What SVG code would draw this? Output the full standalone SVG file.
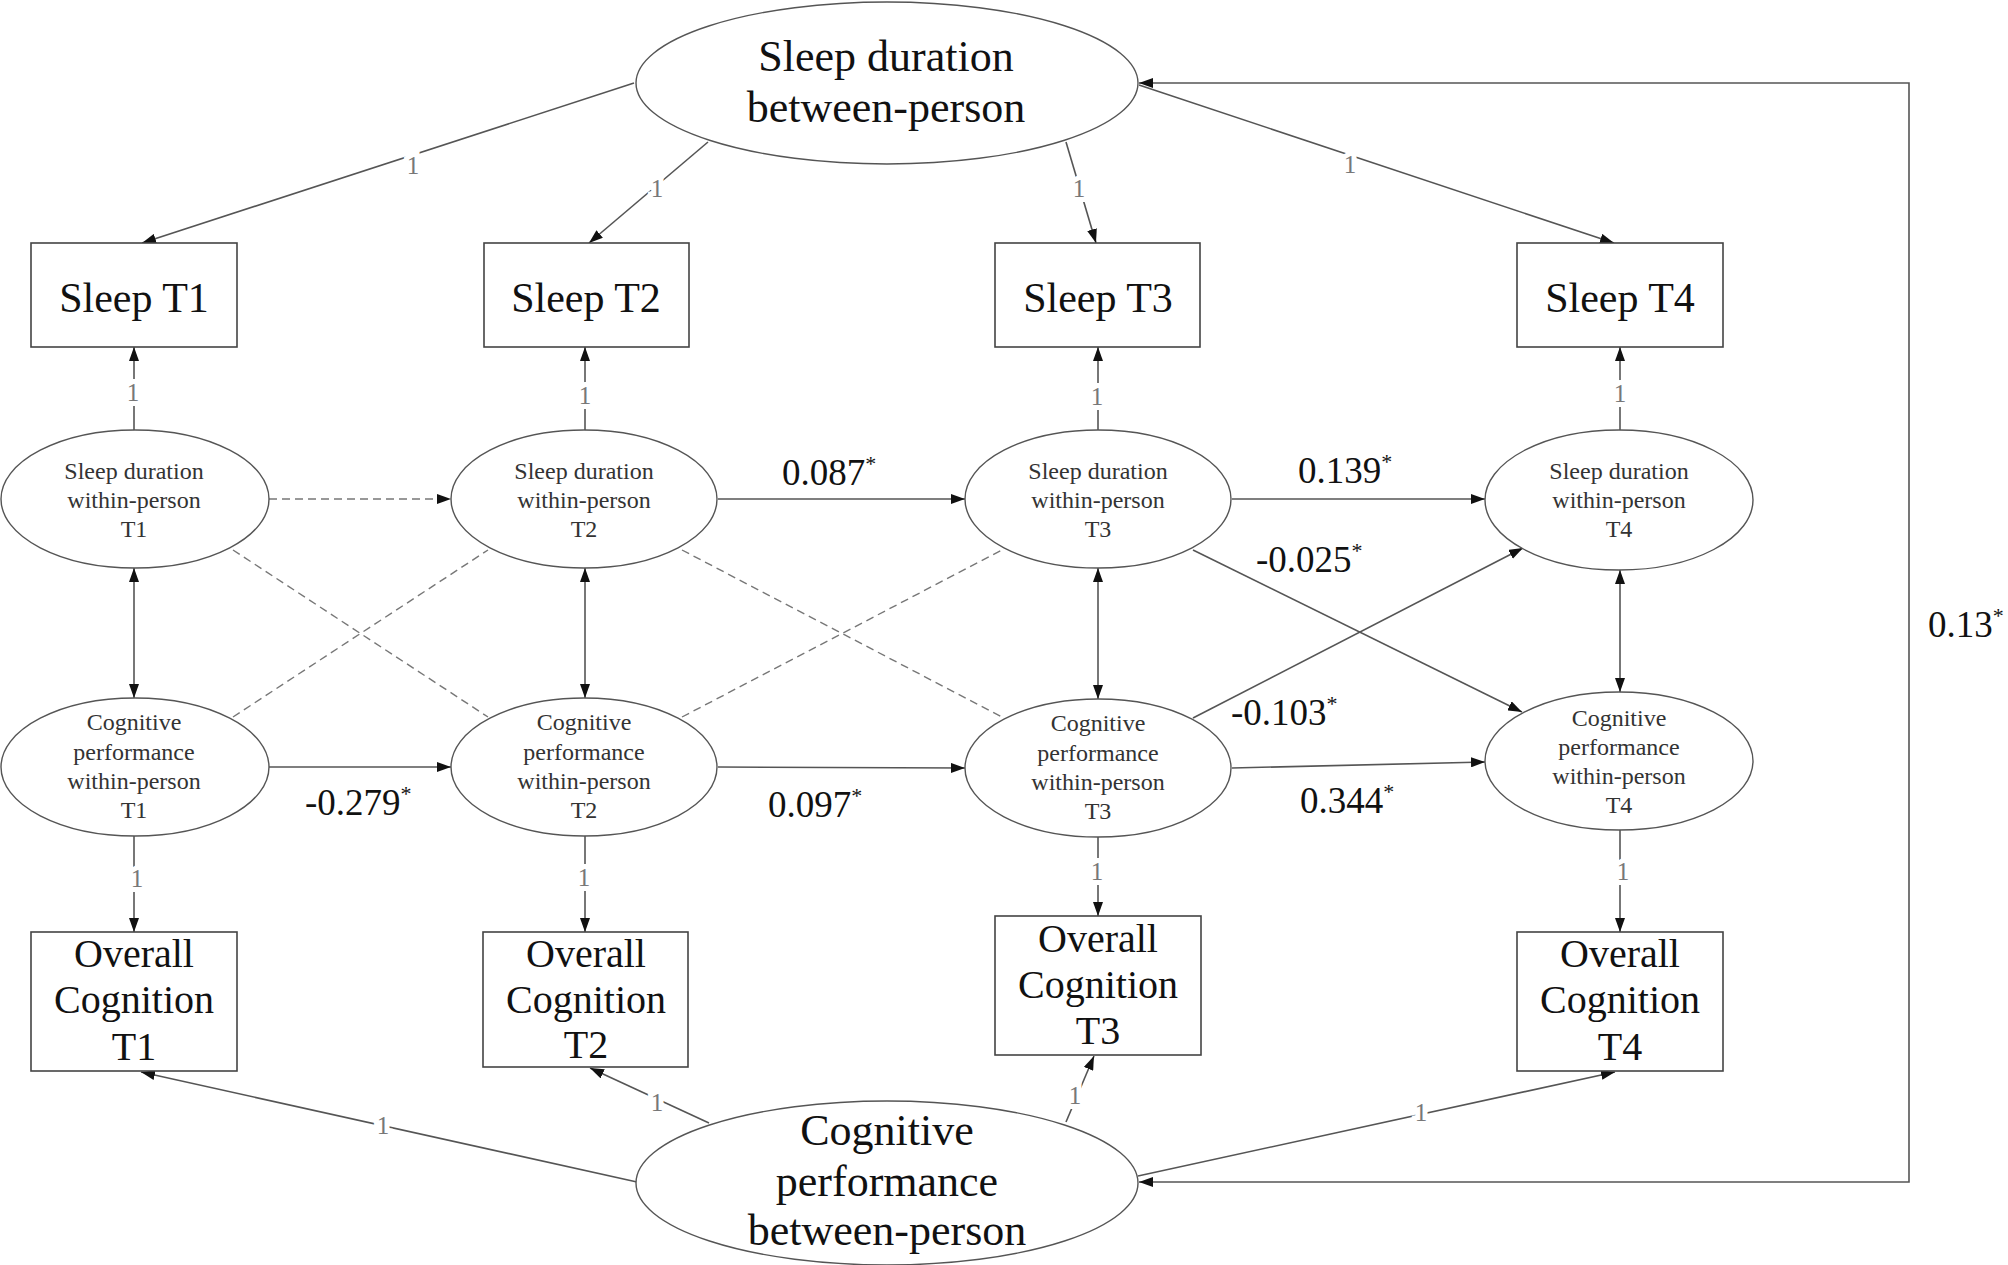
<svg xmlns="http://www.w3.org/2000/svg" width="2008" height="1265" viewBox="0 0 2008 1265">
<style>
text{font-family:"Liberation Serif","Times New Roman",serif;}
.box{fill:#fff;stroke:#444;stroke-width:1.6;}
.ell{fill:#fff;stroke:#555;stroke-width:1.4;}
.big{font-size:42px;fill:#111;text-anchor:middle;}
.lat{font-size:44px;fill:#111;text-anchor:middle;}
.oc{font-size:40px;fill:#111;text-anchor:middle;}
.wp{font-size:24px;fill:#333;text-anchor:middle;}
.one{font-size:25px;fill:#777;text-anchor:middle;stroke:#fff;stroke-width:10px;paint-order:stroke;}
.coef{font-size:37px;fill:#111;}
.ast{font-size:22px;}
.c{fill:none;stroke:#555;stroke-width:1.6;}
.d{fill:none;stroke:#777;stroke-width:1.4;stroke-dasharray:8 5;}
.a{marker-end:url(#ah);}
.aa{marker-start:url(#ah);marker-end:url(#ah);}
</style>
<defs>
<marker id="ah" viewBox="0 0 14 10" refX="14" refY="5" markerWidth="14" markerHeight="10" orient="auto-start-reverse" markerUnits="userSpaceOnUse">
<path d="M0,0 L14,5 L0,10 z" fill="#111"/>
</marker>
</defs>
<rect width="2008" height="1265" fill="#fff"/>

<g id="connectors">
<!-- between-person sleep loadings -->
<path class="c a" d="M634,83 L142,243"/>
<path class="c a" d="M708,142 L589,243"/>
<path class="c a" d="M1066,142 L1096,243"/>
<path class="c a" d="M1139,85 L1614,243"/>
<!-- within-person sleep loadings -->
<path class="c a" d="M134,430 L134,347"/>
<path class="c a" d="M585,430 L585,347"/>
<path class="c a" d="M1098,430 L1098,347"/>
<path class="c a" d="M1620,431 L1620,347"/>
<!-- within covariances -->
<path class="c aa" d="M134,568 L134,698"/>
<path class="c aa" d="M585,568 L585,698"/>
<path class="c aa" d="M1098,568 L1098,699"/>
<path class="c aa" d="M1620,570 L1620,692"/>
<!-- within-person cognition loadings -->
<path class="c a" d="M134,836 L134,932"/>
<path class="c a" d="M585,836 L585,932"/>
<path class="c a" d="M1098,837 L1098,916"/>
<path class="c a" d="M1620,830 L1620,932"/>
<!-- between-person cognition loadings -->
<path class="c a" d="M637,1182 L141,1072"/>
<path class="c a" d="M709,1123 L590,1068"/>
<path class="c a" d="M1066,1122 L1094,1056"/>
<path class="c a" d="M1138,1176 L1615,1072"/>
<!-- between-person covariance -->
<path class="c aa" d="M1139,83 L1909,83 L1909,1182 L1139,1182"/>
<!-- autoregressive paths -->
<path class="d a" d="M269,499 L451,499"/>
<path class="c a" d="M718,499 L965,499"/>
<path class="c a" d="M1232,499 L1485,499"/>
<path class="c a" d="M269,767 L451,767"/>
<path class="c a" d="M718,767 L965,768"/>
<path class="c a" d="M1232,768 L1485,762"/>
<!-- cross-lagged paths -->
<path class="c a" d="M1193,550 L1522,712"/>
<path class="c a" d="M1193,718 L1523,548"/>
<path class="d" d="M233,550 L488,717"/>
<path class="d" d="M233,717 L488,550"/>
<path class="d" d="M682,550 L1002,717"/>
<path class="d" d="M682,717 L1002,550"/>

<!-- loading labels -->
<text class="one" x="413" y="174">1</text>
<text class="one" x="657" y="197">1</text>
<text class="one" x="1079" y="197">1</text>
<text class="one" x="1350" y="173">1</text>
<text class="one" x="133" y="401">1</text>
<text class="one" x="585" y="404">1</text>
<text class="one" x="1097" y="405">1</text>
<text class="one" x="1620" y="402">1</text>
<text class="one" x="137" y="887">1</text>
<text class="one" x="584" y="886">1</text>
<text class="one" x="1097" y="880">1</text>
<text class="one" x="1623" y="880">1</text>
<text class="one" x="383" y="1134">1</text>
<text class="one" x="657" y="1111">1</text>
<text class="one" x="1075" y="1104">1</text>
<text class="one" x="1421" y="1121">1</text>

<!-- coefficients -->
<text class="coef" x="782" y="485">0.087<tspan class="ast" dy="-14">*</tspan></text>
<text class="coef" x="1298" y="483">0.139<tspan class="ast" dy="-14">*</tspan></text>
<text class="coef" x="1256" y="572">-0.025<tspan class="ast" dy="-14">*</tspan></text>
<text class="coef" x="1231" y="725">-0.103<tspan class="ast" dy="-14">*</tspan></text>
<text class="coef" x="305" y="815">-0.279<tspan class="ast" dy="-14">*</tspan></text>
<text class="coef" x="768" y="817">0.097<tspan class="ast" dy="-14">*</tspan></text>
<text class="coef" x="1300" y="813">0.344<tspan class="ast" dy="-14">*</tspan></text>
<text class="coef" x="1928" y="637">0.13<tspan class="ast" dy="-14">*</tspan></text>
</g>

<g id="sleep-between">
<ellipse class="ell" cx="887" cy="83" rx="251" ry="81"/>
<text class="lat" x="886" y="71">Sleep duration</text>
<text class="lat" x="886" y="122">between-person</text>
</g>

<g id="sleep-t1"><rect class="box" x="31" y="243" width="206" height="104"/><text class="big" x="134" y="312">Sleep T1</text></g>
<g id="sleep-t2"><rect class="box" x="484" y="243" width="205" height="104"/><text class="big" x="586" y="312">Sleep T2</text></g>
<g id="sleep-t3"><rect class="box" x="995" y="243" width="205" height="104"/><text class="big" x="1098" y="312">Sleep T3</text></g>
<g id="sleep-t4"><rect class="box" x="1517" y="243" width="206" height="104"/><text class="big" x="1620" y="312">Sleep T4</text></g>

<g id="sleep-wp-t1"><ellipse class="ell" cx="135" cy="499" rx="134" ry="69"/>
<text class="wp" x="134" y="479">Sleep duration</text><text class="wp" x="134" y="508">within-person</text><text class="wp" x="134" y="537">T1</text></g>
<g id="sleep-wp-t2"><ellipse class="ell" cx="584" cy="499" rx="133" ry="69"/>
<text class="wp" x="584" y="479">Sleep duration</text><text class="wp" x="584" y="508">within-person</text><text class="wp" x="584" y="537">T2</text></g>
<g id="sleep-wp-t3"><ellipse class="ell" cx="1098" cy="499" rx="133" ry="69"/>
<text class="wp" x="1098" y="479">Sleep duration</text><text class="wp" x="1098" y="508">within-person</text><text class="wp" x="1098" y="537">T3</text></g>
<g id="sleep-wp-t4"><ellipse class="ell" cx="1619" cy="500" rx="134" ry="70"/>
<text class="wp" x="1619" y="479">Sleep duration</text><text class="wp" x="1619" y="508">within-person</text><text class="wp" x="1619" y="537">T4</text></g>

<g id="cog-wp-t1"><ellipse class="ell" cx="135" cy="767" rx="134" ry="69"/>
<text class="wp" x="134" y="730">Cognitive</text><text class="wp" x="134" y="760">performance</text><text class="wp" x="134" y="789">within-person</text><text class="wp" x="134" y="818">T1</text></g>
<g id="cog-wp-t2"><ellipse class="ell" cx="584" cy="767" rx="133" ry="69"/>
<text class="wp" x="584" y="730">Cognitive</text><text class="wp" x="584" y="760">performance</text><text class="wp" x="584" y="789">within-person</text><text class="wp" x="584" y="818">T2</text></g>
<g id="cog-wp-t3"><ellipse class="ell" cx="1098" cy="768" rx="133" ry="69"/>
<text class="wp" x="1098" y="731">Cognitive</text><text class="wp" x="1098" y="761">performance</text><text class="wp" x="1098" y="790">within-person</text><text class="wp" x="1098" y="819">T3</text></g>
<g id="cog-wp-t4"><ellipse class="ell" cx="1619" cy="761" rx="134" ry="69"/>
<text class="wp" x="1619" y="726">Cognitive</text><text class="wp" x="1619" y="755">performance</text><text class="wp" x="1619" y="784">within-person</text><text class="wp" x="1619" y="813">T4</text></g>

<g id="oc-t1"><rect class="box" x="31" y="932" width="206" height="139"/>
<text class="oc" x="134" y="967">Overall</text><text class="oc" x="134" y="1013">Cognition</text><text class="oc" x="134" y="1060">T1</text></g>
<g id="oc-t2"><rect class="box" x="483" y="932" width="205" height="135"/>
<text class="oc" x="586" y="967">Overall</text><text class="oc" x="586" y="1013">Cognition</text><text class="oc" x="586" y="1058">T2</text></g>
<g id="oc-t3"><rect class="box" x="995" y="916" width="206" height="139"/>
<text class="oc" x="1098" y="952">Overall</text><text class="oc" x="1098" y="998">Cognition</text><text class="oc" x="1098" y="1044">T3</text></g>
<g id="oc-t4"><rect class="box" x="1517" y="932" width="206" height="139"/>
<text class="oc" x="1620" y="967">Overall</text><text class="oc" x="1620" y="1013">Cognition</text><text class="oc" x="1620" y="1060">T4</text></g>

<g id="cog-between">
<ellipse class="ell" cx="887" cy="1183" rx="251" ry="82"/>
<text class="lat" x="887" y="1145">Cognitive</text>
<text class="lat" x="887" y="1196">performance</text>
<text class="lat" x="887" y="1245">between-person</text>
</g>
</svg>
